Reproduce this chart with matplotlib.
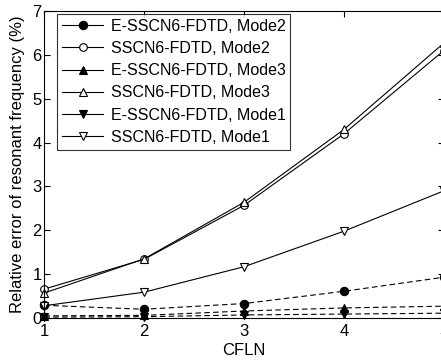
import matplotlib
matplotlib.use('Agg')
import matplotlib.pyplot as plt
from matplotlib.lines import Line2D

plt.rcParams['font.family'] = ['Liberation Sans', 'DejaVu Sans']

cfln = [1, 2, 3, 4, 5]
e_mode2 = [0.29, 0.20, 0.33, 0.61, 0.93]
s_mode2 = [0.66, 1.34, 2.57, 4.20, 6.10]
e_mode3 = [0.05, 0.06, 0.16, 0.23, 0.27]
s_mode3 = [0.57, 1.35, 2.64, 4.30, 6.27]
e_mode1 = [0.02, 0.03, 0.07, 0.09, 0.11]
s_mode1 = [0.28, 0.59, 1.17, 1.98, 2.90]

labels = ['E-SSCN6-FDTD, Mode2', 'SSCN6-FDTD, Mode2',
          'E-SSCN6-FDTD, Mode3', 'SSCN6-FDTD, Mode3',
          'E-SSCN6-FDTD, Mode1', 'SSCN6-FDTD, Mode1']

series = [e_mode2, s_mode2, e_mode3, s_mode3, e_mode1, s_mode1]
markers = ['o', 'o', '^', '^', 'v', 'v']
filled = [True, False, True, False, True, False]
msizes = [6, 5.5, 6, 6, 6, 6]

fig = plt.figure(figsize=(4.41, 3.62), dpi=100)
ax = fig.add_axes([0.1005, 0.1215, 0.906, 0.848])

handles = []
for y, m, f, ms, lab in zip(series, markers, filled, msizes, labels):
    kw = dict(color='black', lw=0.8, marker=m, ms=ms,
              mfc='black' if f else 'white', mec='black', mew=0.8)
    if f:
        ax.plot(cfln, y, ls='--', dashes=(5, 3), clip_on=False, **kw)
    else:
        ax.plot(cfln, y, ls='-', clip_on=False, **kw)
    handles.append(Line2D([], [], ls='-', label=lab, **kw))

ax.set_xlim(1, 5)
ax.set_ylim(0, 7)
ax.set_xticks([1, 2, 3, 4, 5])
ax.set_yticks(range(8))
ax.tick_params(direction='in', top=True, right=True, labelsize=12, length=4, width=0.8)
ax.tick_params(axis='x', pad=4)
ax.tick_params(axis='y', pad=2)
for s in ax.spines.values():
    s.set_linewidth(0.8)

ax.set_xlabel('CFLN', fontsize=12, labelpad=3)
ax.set_ylabel('Relative error of resonant frequency (%)', fontsize=12, labelpad=5)

leg = ax.legend(handles=handles, loc='upper left', bbox_to_anchor=(0.032, 0.99),
                fontsize=11.5, frameon=True, fancybox=False, handlelength=2.6,
                handletextpad=0.45, labelspacing=0.45, borderpad=0.3, borderaxespad=0)
leg.get_frame().set_edgecolor('black')
leg.get_frame().set_linewidth(0.8)

fig.savefig('out.png', dpi=100)
